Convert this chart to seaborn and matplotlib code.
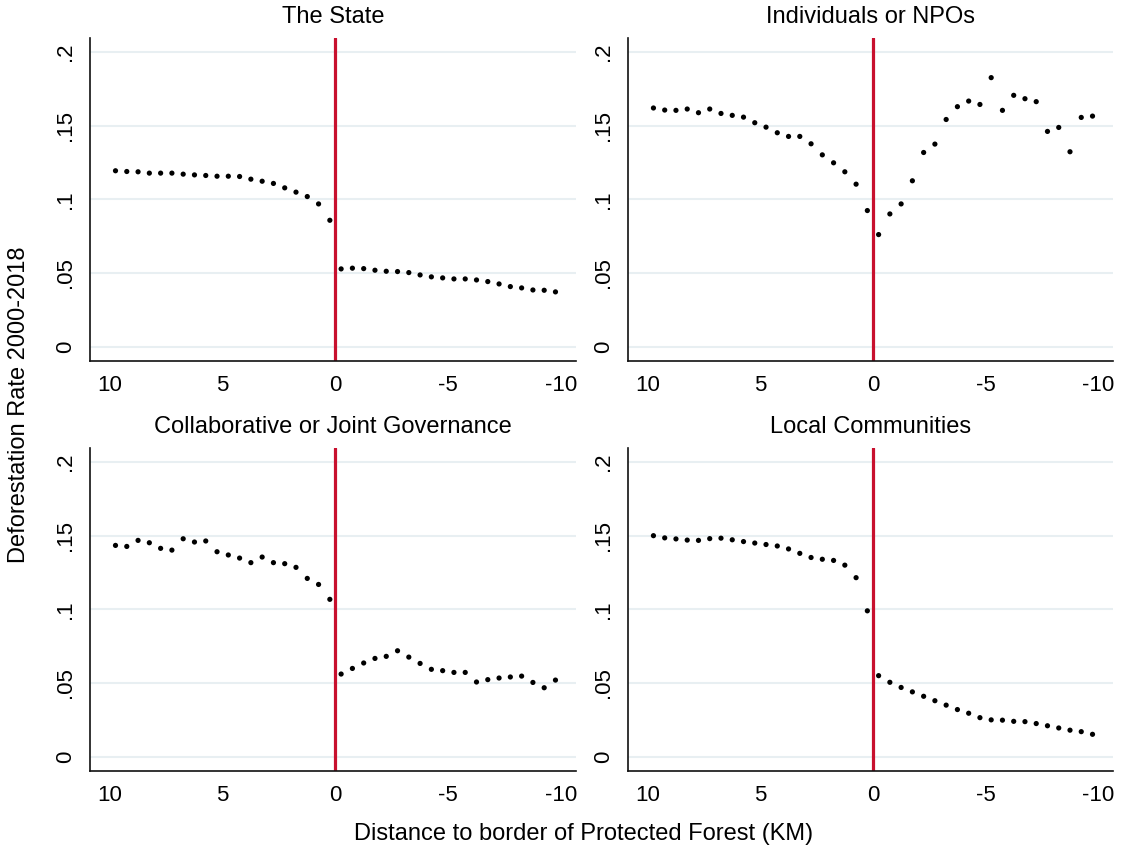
import pandas as pd
import numpy as np
import matplotlib
matplotlib.use('Agg')
import matplotlib.pyplot as plt
import seaborn as sns

# distance bins (km), positive = outside the protected forest
dist = [9.75, 9.25, 8.75, 8.25, 7.75, 7.25, 6.75, 6.25, 5.75, 5.25,
        4.75, 4.25, 3.75, 3.25, 2.75, 2.25, 1.75, 1.25, 0.75, 0.25,
        -0.25, -0.75, -1.25, -1.75, -2.25, -2.75, -3.25, -3.75, -4.25, -4.75,
        -5.25, -5.75, -6.25, -6.75, -7.25, -7.75, -8.25, -8.75, -9.25, -9.75]

state = [0.1194, 0.1189, 0.1187, 0.1178, 0.1178, 0.1178, 0.1171, 0.1166, 0.1162, 0.1157,
         0.1157, 0.1155, 0.1137, 0.1123, 0.1108, 0.1078, 0.1049, 0.1019, 0.0969, 0.0858,
         0.0528, 0.0533, 0.0530, 0.0519, 0.0512, 0.0510, 0.0503, 0.0487, 0.0474, 0.0467,
         0.0460, 0.0460, 0.0453, 0.0442, 0.0426, 0.0408, 0.0399, 0.0385, 0.0383, 0.0372]

npo = [0.1620, 0.1606, 0.1604, 0.1613, 0.1588, 0.1613, 0.1583, 0.1570, 0.1558, 0.1520,
       0.1490, 0.1452, 0.1427, 0.1427, 0.1377, 0.1302, 0.1248, 0.1187, 0.1103, 0.0924,
       0.0761, 0.0901, 0.0969, 0.1126, 0.1318, 0.1375, 0.1542, 0.1629, 0.1667, 0.1644,
       0.1826, 0.1604, 0.1706, 0.1683, 0.1663, 0.1461, 0.1488, 0.1323, 0.1556, 0.1565]

joint = [0.1434, 0.1427, 0.1468, 0.1452, 0.1414, 0.1402, 0.1479, 0.1457, 0.1464, 0.1391,
         0.1369, 0.1348, 0.1317, 0.1355, 0.1317, 0.1310, 0.1285, 0.1210, 0.1169, 0.1068,
         0.0561, 0.0599, 0.0636, 0.0667, 0.0681, 0.0719, 0.0676, 0.0633, 0.0593, 0.0584,
         0.0572, 0.0572, 0.0507, 0.0523, 0.0534, 0.0541, 0.0547, 0.0504, 0.0468, 0.0520]

local = [0.1500, 0.1485, 0.1478, 0.1470, 0.1468, 0.1480, 0.1483, 0.1472, 0.1460, 0.1450,
         0.1440, 0.1430, 0.1410, 0.1380, 0.1352, 0.1340, 0.1332, 0.1300, 0.1215, 0.0990,
         0.0550, 0.0505, 0.0470, 0.0440, 0.0410, 0.0380, 0.0350, 0.0320, 0.0295, 0.0265,
         0.0250, 0.0248, 0.0240, 0.0238, 0.0225, 0.0210, 0.0195, 0.0180, 0.0170, 0.0152]

titles = ['The State', 'Individuals or NPOs',
          'Collaborative or Joint Governance', 'Local Communities']
xticks = [10, 5, 0, -5, -10]
xtick_labels = ['10', '5', '0', '-5', '-10']
yticks = [0, 0.05, 0.1, 0.15, 0.2]
ytick_labels = ['0', '.05', '.1', '.15', '.2']

sns.set_style('white')
plt.rcParams['font.family'] = ['Liberation Sans', 'DejaVu Sans']
plt.rcParams['text.color'] = 'black'
plt.rcParams['xtick.color'] = 'black'
plt.rcParams['ytick.color'] = 'black'

W, H = 1124, 850
fig = plt.figure(figsize=(11.24, 8.5), dpi=100)


def rect(l, r, t, b):
    return [l / W, 1 - b / H, (r - l) / W, (b - t) / H]


panels = [
    (rect(90, 576, 38, 361), state, 17),
    (rect(628, 1113, 38, 361), npo, 17),
    (rect(90, 576, 448, 771), joint, 427),
    (rect(628, 1113, 448, 771), local, 427),
]

for (pos, vals, ty), title in zip(panels, titles):
    ax = fig.add_axes(pos)
    df = pd.DataFrame({'dist': dist, 'rate': vals})
    for yv in yticks:
        ax.axhline(yv, color='#e8eff2', lw=1.5, zorder=0)
    ax.axvline(0, color='#c8102e', lw=2.3, zorder=1)
    sns.scatterplot(x='dist', y='rate', data=df, ax=ax, color='black',
                    s=14, edgecolor='none', zorder=3)
    ax.set_xlim(10.88, -10.66)
    ax.set_ylim(-0.0097, 0.2095)
    ax.set_xticks(xticks)
    ax.set_xticklabels(xtick_labels)
    ax.set_yticks(yticks)
    ax.set_yticklabels(ytick_labels, rotation=90, va='center')
    ax.tick_params(axis='both', direction='out', length=6, width=1,
                   color='#222222', labelsize=16, pad=4)
    ax.set_xlabel('')
    ax.set_ylabel('')
    for side in ['top', 'right']:
        ax.spines[side].set_visible(False)
    for side in ['left', 'bottom']:
        ax.spines[side].set_color('#111111')
        ax.spines[side].set_linewidth(1.2)
    cx = (pos[0] + pos[2] / 2)
    fig.text(cx, 1 - ty / H, title, ha='center', va='center', fontsize=17)

fig.text(584 / W, 1 - 834 / H, 'Distance to border of Protected Forest (KM)',
         ha='center', va='center', fontsize=17)
fig.text(19 / W, 1 - 405 / H, 'Deforestation Rate 2000-2018',
         ha='center', va='center', rotation=90, fontsize=17)

fig.savefig('out.png', dpi=100, facecolor='white')
